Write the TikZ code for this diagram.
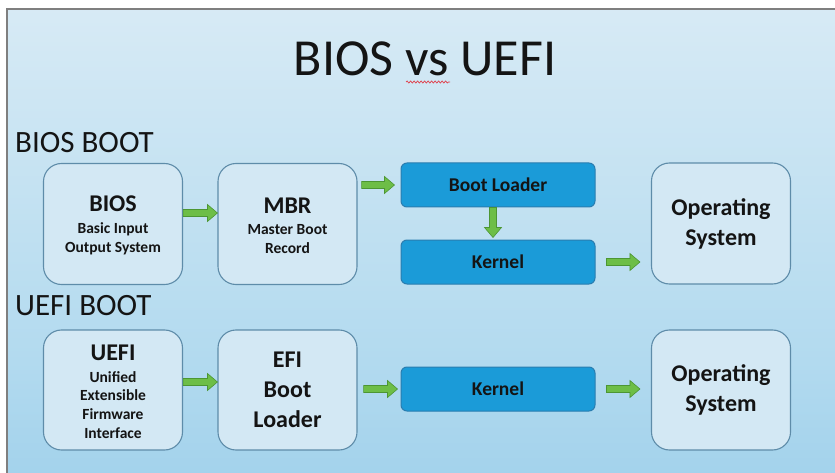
\documentclass[tikz,border=0pt]{standalone}
\usepackage{fontspec}
\setmainfont{Carlito}
\usetikzlibrary{calc,decorations.pathmorphing}

\definecolor{bgA}{HTML}{ACD7EE}
\definecolor{bgB}{HTML}{9BCEEA}
\definecolor{bgC}{HTML}{B2DAEF}
\definecolor{bgD}{HTML}{D2E8F4}
\definecolor{bgE}{HTML}{EFF6FB}
\definecolor{framegray}{HTML}{7F7F7F}
\definecolor{boxfill}{HTML}{D3E8F4}
\definecolor{boxedge}{HTML}{5E8CA9}
\definecolor{corefill}{HTML}{1B9BD8}
\definecolor{coreedge}{HTML}{2A7DB0}
\definecolor{arrowfill}{HTML}{6DBE47}
\definecolor{arrowedge}{HTML}{4C9633}
\definecolor{ink}{HTML}{141414}
\definecolor{spellred}{HTML}{E0404A}

% slide background, light at the top and deeper blue towards the bottom
\pgfdeclareverticalshading{slidebg}{100bp}{color(0bp)=(bgA); color(18bp)=(bgB); color(37bp)=(bgC); color(70bp)=(bgD); color(100bp)=(bgE)}

% bold box heading above smaller description lines
\newcommand{\stagetitle}[1]{{\fontsize{24}{24}\selectfont\rule{0pt}{19pt}#1}}

\begin{document}
\begin{tikzpicture}[x=1pt,y=1pt,
  stagebox/.style={draw=boxedge, fill=boxfill, line width=1.1pt, rounded corners=18pt,
    minimum width=139pt, minimum height=121pt, align=center, text=ink, inner sep=0pt,
    font=\bfseries\fontsize{15.5}{18.8}\selectfont},
  corebox/.style={draw=coreedge, fill=corefill, line width=1pt, rounded corners=6pt,
    minimum width=194pt, minimum height=44pt, text=ink, inner sep=0pt,
    font=\bfseries\fontsize{19.5}{24}\selectfont},
  headline/.style={anchor=base west, inner sep=0pt, text=ink, font=\fontsize{31}{36}\selectfont},
  flowarrow/.style={draw=arrowedge, fill=arrowfill, line width=0.6pt, line join=miter,
    to path={let \p1=(\tikztostart), \p2=(\tikztotarget),
      \n1={atan2(\y2-\y1,\x2-\x1)}, \n2={veclen(\x2-\x1,\y2-\y1)-10pt} in
      ($(\p1)+(\n1+90:3.5pt)$)
      -- ($(\p1)+(\n1:\n2)+(\n1+90:3.5pt)$)
      -- ($(\p1)+(\n1:\n2)+(\n1+90:8.5pt)$)
      -- (\p2)
      -- ($(\p1)+(\n1:\n2)+(\n1-90:8.5pt)$)
      -- ($(\p1)+(\n1:\n2)+(\n1-90:3.5pt)$)
      -- ($(\p1)+(\n1-90:3.5pt)$) -- cycle}},
  big/.style={font=\bfseries\fontsize{24}{30}\selectfont}
]
\useasboundingbox (0,0) rectangle (835,-473);
\fill[white] (0,0) rectangle (835,-473);

% slide area with its grey frame on the left and top
\shade[shading=slidebg] (7,-9.5) rectangle (835,-473);
\draw[framegray, line width=2pt] (7,-473) -- (7,-9.5) -- (835,-9.5);

% title
\node[anchor=base, inner sep=0pt, text=ink, font=\fontsize{52}{60}\selectfont] (title) at (425,-76) {BIOS vs UEFI};
\draw[spellred, line width=0.7pt, decorate, decoration={snake, amplitude=1pt, segment length=3.5pt}]
  (406,-82) -- (450,-82);

% BIOS boot chain
\node[headline] (biosboot) at (15,-153) {BIOS BOOT};
\node[stagebox] (bios) at (113,-224) {\stagetitle{BIOS}\\[3pt]Basic Input\\Output System};
\node[stagebox] (mbr) at (287.5,-224) {\stagetitle{MBR}\\[3pt]Master Boot\\Record};
\node[corebox] (loader) at (498,-185) {Boot Loader};
\node[corebox] (kernel) at (498,-262) {Kernel};
\node[stagebox, big] (os) at (721,-223.5) {Operating\\System};

\draw[flowarrow] ([yshift=11pt]bios.east) to ([yshift=11pt]mbr.west);
\draw[flowarrow] ([xshift=4pt]mbr.east |- loader.west) to ([xshift=-6pt]loader.west);
\draw[flowarrow] ([xshift=-5pt]loader.south) to ([xshift=-5pt,yshift=2pt]kernel.north);
\draw[flowarrow] ([xshift=11pt]kernel.east) to ([xshift=-11pt]kernel.east -| os.west);

% UEFI boot chain
\node[headline] (uefiboot) at (15,-315) {UEFI BOOT};
\node[stagebox, minimum height=120pt] (uefi) at (113,-390) {\stagetitle{UEFI}\\[3pt]Unified\\Extensible\\Firmware\\Interface};
\node[stagebox, big, minimum height=120pt] (efi) at (287.5,-390) {EFI\\Boot\\Loader};
\node[corebox] (kernel2) at (498,-389) {Kernel};
\node[stagebox, big, minimum height=120pt] (os2) at (721,-390) {Operating\\System};

\draw[flowarrow] ([yshift=8pt]uefi.east) to ([yshift=8pt]efi.west);
\draw[flowarrow] ([xshift=6pt]efi.east |- kernel2.west) to ([xshift=-3pt]kernel2.west);
\draw[flowarrow] ([xshift=11pt]kernel2.east) to ([xshift=-11pt]kernel2.east -| os2.west);
\end{tikzpicture}
\end{document}
